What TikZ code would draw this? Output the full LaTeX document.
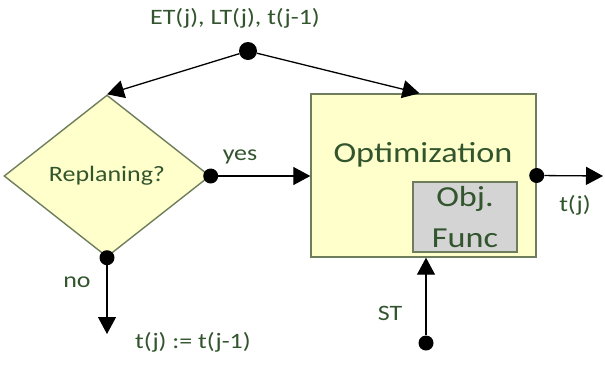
\documentclass[tikz,border=0pt]{standalone}
\usepackage{fontspec}
\setmainfont{Carlito}
\usetikzlibrary{shapes.geometric,arrows.meta}
\definecolor{gelb}{RGB}{255,255,204}
\definecolor{rahmen}{RGB}{110,126,92}
\definecolor{schrift}{RGB}{50,85,45}
\definecolor{grau}{RGB}{212,212,212}
\tikzset{
  txt/.style={font=\fontsize{22}{24}\selectfont, text=schrift, xscale=1.18, inner sep=0},
  gross/.style={txt, font=\fontsize{29}{41}\selectfont},
  kasten/.style={draw=rahmen, fill=gelb, line width=1.4pt, inner sep=0},
  pfeil/.style={-{Triangle[length=17pt,width=18pt]}, line width=1.3pt},
  punkt/.style={circle, fill=black, inner sep=0, minimum size=15pt},
}
\begin{document}
\begin{tikzpicture}[x=1pt,y=-1pt]
  \useasboundingbox (0,0) rectangle (605,365);
  % Raute und Kaesten
  \node[kasten, diamond, minimum width=206pt, minimum height=162pt] (repl) at (107,176) {};
  \node[kasten, minimum width=225pt, minimum height=163pt] (opt) at (423.5,175.5) {};
  \node[kasten, fill=grau, minimum width=104pt, minimum height=70pt] (obj) at (465,217) {};
  \node[txt] (replTxt) at (repl) {Replaning?};
  \node[gross] (optTxt) at (423,155) {Optimization};
  \node[gross, align=center] (objTxt) at (obj) {Obj.\\Func};
  % Punkte
  \node[punkt, minimum size=18pt] (oben) at (248,51) {};
  \node[punkt] (ja) at (repl.east) {};
  \node[punkt] (nein) at (repl.south) {};
  \node[punkt] (aus) at (opt.east) {};
  \node[punkt] (st) at (426,343) {};
  \coordinate (ende) at (603,176);
  \coordinate (neinEnde) at (107,334);
  % Pfeile
  \draw[pfeil] (oben) -- (repl.north);
  \draw[pfeil] (oben) -- ([xshift=-4pt]opt.north);
  \draw[pfeil] (ja) -- (ja -| opt.west);
  \draw[pfeil] (aus) -- (ende);
  \draw[pfeil] (nein) -- (neinEnde);
  \draw[pfeil] (st) -- (st |- opt.south);
  % Beschriftungen
  \node[txt] (obenTxt) at (235,18) {ET(j), LT(j), t(j-1)};
  \node[txt] (jaTxt) at (240,157) {yes};
  \node[txt] (neinTxt) at (77,282) {no};
  \node[txt] (ausTxt) at (575,205) {t(j)};
  \node[txt] (neinEndeTxt) at (193,342) {t(j) := t(j-1)};
  \node[txt] (stTxt) at (390,313) {ST};
\end{tikzpicture}
\end{document}
